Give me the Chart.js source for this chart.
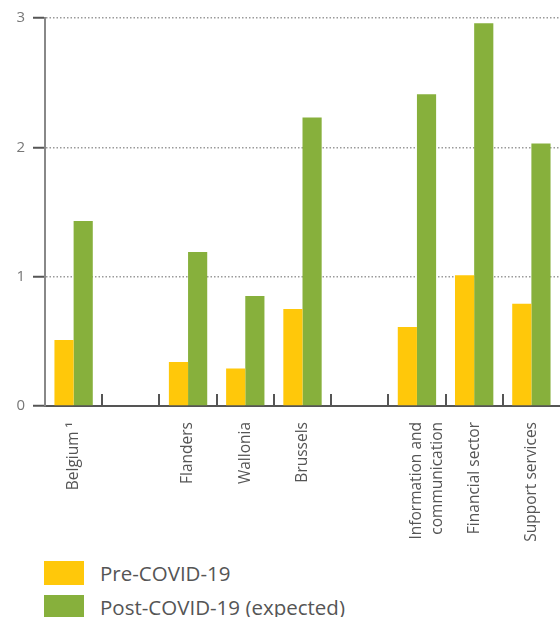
<!DOCTYPE html>
<html>
<head>
<meta charset="utf-8">
<script src="https://cdn.jsdelivr.net/npm/chart.js@4/dist/chart.umd.min.js"></script>
<style>
  html, body { margin: 0; padding: 0; background: #fff; }
  #wrap { position: relative; width: 560px; height: 548px; }
  #legend { margin: 13px 0 0 44px; font-family: "Open Sans", sans-serif; font-size: 20.5px; color: #555; }
  #legend .item { display: flex; align-items: center; height: 24px; margin-bottom: 10px; }
  #legend .box { width: 40px; height: 24px; margin-right: 16px; }
</style>
</head>
<body>
<div id="wrap"><canvas id="chart"></canvas></div>
<div id="legend"></div>
<script>
// Categories (empty strings are spacer slots between the groups)
var categories = [
  'Belgium \u00b9', '', 'Flanders', 'Wallonia', 'Brussels', '',
  ['Information and', 'communication'], 'Financial sector', 'Support services'
];

var preCovid  = [0.51, null, 0.34, 0.29, 0.75, null, 0.61, 1.01, 0.79];
var postCovid = [1.43, null, 1.19, 0.85, 2.23, null, 2.41, 2.96, 2.03];

var seriesNames = ['Pre-COVID-19', 'Post-COVID-19 (expected)'];
var yTicks = [0, 1, 2, 3];

var yellow = '#ffc80a';
var green  = '#87b03c';

// short separator marks between categories, pointing up from the axis
var separatorPlugin = {
  id: 'separators',
  afterDraw: function (chart) {
    var x = chart.scales.x;
    var ctx = chart.ctx;
    var half = (x.getPixelForValue(1) - x.getPixelForValue(0)) / 2;
    var bottom = chart.chartArea.bottom;
    ctx.save();
    ctx.strokeStyle = '#555';
    ctx.lineWidth = 2;
    for (var i = 1; i < categories.length; i++) {
      var px = Math.round(x.getPixelForValue(i) - half);
      ctx.beginPath();
      ctx.moveTo(px, bottom - 12);
      ctx.lineTo(px, bottom);
      ctx.stroke();
    }
    ctx.restore();
  }
};

var chart = new Chart(document.getElementById('chart'), {
  type: 'bar',
  data: {
    labels: categories,
    datasets: [
      { label: seriesNames[0], data: preCovid, backgroundColor: yellow },
      { label: seriesNames[1], data: postCovid, backgroundColor: green }
    ]
  },
  options: {
    responsive: true,
    maintainAspectRatio: false,
    animation: false,
    layout: { padding: { top: 18, right: 0, left: 0, bottom: 0 } },
    datasets: { bar: { categoryPercentage: 0.67, barPercentage: 1.0 } },
    scales: {
      x: {
        grid: { display: false, drawTicks: false },
        border: { display: true, color: '#555', width: 2 },
        ticks: {
          autoSkip: false,
          minRotation: 90,
          maxRotation: 90,
          padding: 16,
          color: '#555',
          font: { family: 'Open Sans', size: 15.5, lineHeight: 1.3 }
        },
        afterFit: function (scale) {
          scale.height = 142;
          scale.paddingRight = 0;
          scale.paddingLeft = 0;
        }
      },
      y: {
        min: 0,
        max: 3,
        afterBuildTicks: function (scale) {
          scale.ticks = yTicks.map(function (v) { return { value: v }; });
        },
        grid: {
          color: function (ctx) { return ctx.tick && ctx.tick.value === 0 ? 'rgba(0,0,0,0)' : '#9a9a9a'; },
          lineWidth: 1.5,
          drawTicks: true,
          tickLength: 12,
          tickColor: '#555',
          tickWidth: 2
        },
        border: { display: true, color: '#888', width: 2, dash: [1.5, 2] },
        ticks: {
          padding: 8,
          color: '#777',
          font: { family: 'Open Sans', size: 15 }
        },
        afterFit: function (scale) { scale.width = 45; }
      }
    },
    plugins: {
      legend: { display: false },
      tooltip: { enabled: false }
    }
  },
  plugins: [separatorPlugin]
});

// legend below the chart, one entry per row
var legend = document.getElementById('legend');
chart.data.datasets.forEach(function (ds) {
  var item = document.createElement('div');
  item.className = 'item';
  var box = document.createElement('span');
  box.className = 'box';
  box.style.background = ds.backgroundColor;
  var text = document.createElement('span');
  text.textContent = ds.label;
  item.appendChild(box);
  item.appendChild(text);
  legend.appendChild(item);
});
</script>
</body>
</html>
